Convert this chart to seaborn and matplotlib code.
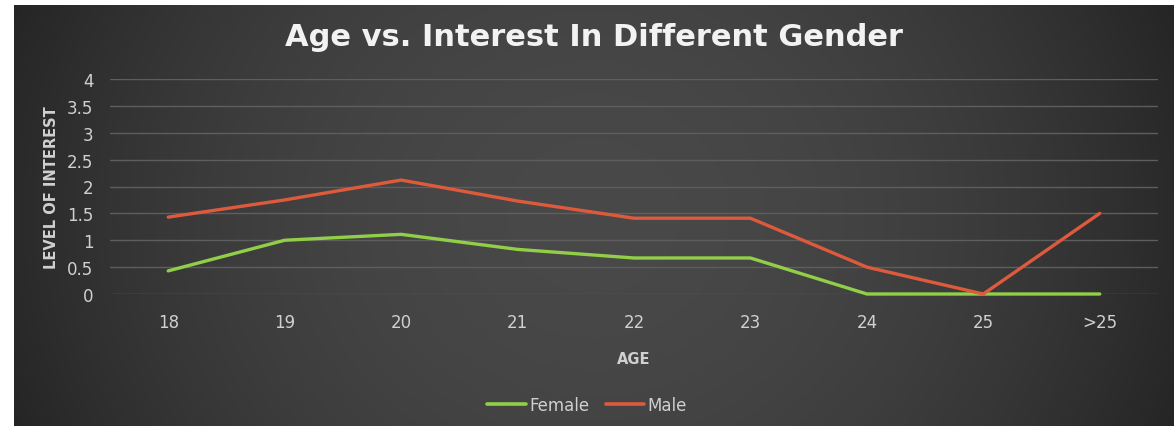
import matplotlib.pyplot as plt
import numpy as np
import pandas as pd
import seaborn as sns
from matplotlib.lines import Line2D

# data
ages = ['18', '19', '20', '21', '22', '23', '24', '25', '>25']
female = [0.43, 1.0, 1.11, 0.83, 0.67, 0.67, 0.0, 0.0, 0.0]
male = [1.43, 1.75, 2.12, 1.73, 1.41, 1.41, 0.5, 0.0, 1.5]
genders = ['Female', 'Male']
colors = {'Female': '#92CF48', 'Male': '#DE5A3C'}

df = pd.DataFrame({
    'Age': ages * 2,
    'Interest': female + male,
    'Gender': ['Female'] * len(ages) + ['Male'] * len(ages),
})

sns.set_style('dark')
plt.rcParams['font.family'] = ['DejaVu Sans']

fig = plt.figure(figsize=(11.74, 4.27), dpi=100)
fig.patch.set_facecolor('white')

# dark radial background like the original
bg = fig.add_axes([14 / 1174, 0, 1 - 14 / 1174, 1 - 6 / 427], zorder=-10)
xx, yy = np.meshgrid(np.linspace(-1, 1, 400), np.linspace(-1, 1, 150))
r = np.sqrt((xx / 1.0) ** 2 + (yy / 2.5) ** 2)
shade = 0.285 - 0.12 * np.clip(r, 0, 1.2) ** 2
bg.imshow(np.dstack([shade] * 3), aspect='auto', extent=[0, 1, 0, 1])
bg.axis('off')

ax = fig.add_axes([110 / 1174, 1 - 295 / 427, 1048 / 1174, 215 / 427])
ax.set_facecolor('none')
sns.lineplot(data=df, x='Age', y='Interest', hue='Gender', palette=colors,
             linewidth=2.4, ax=ax, legend=False, clip_on=False, zorder=3)

ax.set_xlim(-0.5, len(ages) - 0.5)
ax.set_ylim(0, 4)
ax.set_yticks(np.arange(0, 4.01, 0.5))
ax.set_yticklabels(['0', '0.5', '1', '1.5', '2', '2.5', '3', '3.5', '4'])
ax.grid(axis='y', color='#5e5e5e', linewidth=1)
ax.grid(axis='x', visible=False)
for s in ax.spines.values():
    s.set_visible(False)
ax.tick_params(axis='y', colors='#d0d0d0', labelsize=12, pad=12, length=0)
ax.tick_params(axis='x', colors='#d0d0d0', labelsize=12, pad=14, length=0)

ax.set_xlabel('AGE', color='#d0d0d0', fontsize=10.5, fontweight='bold', labelpad=14)
ax.set_ylabel('LEVEL OF INTEREST', color='#d0d0d0', fontsize=10.5,
              fontweight='bold', labelpad=6)

fig.text(0.506, 1 - 38 / 427, 'Age vs. Interest In Different Gender',
         ha='center', va='center', color='#f2f2f2', fontsize=22, fontweight='bold')

handles = [Line2D([], [], color=colors[g], linewidth=2.6) for g in genders]
fig.legend(handles, genders, loc='center', bbox_to_anchor=(0.5, 1 - 406 / 427),
           ncol=2, frameon=False, fontsize=12, labelcolor='#d0d0d0',
           handlelength=2.3, handletextpad=0.2, columnspacing=1.0)

plt.savefig('out.png', dpi=100)
